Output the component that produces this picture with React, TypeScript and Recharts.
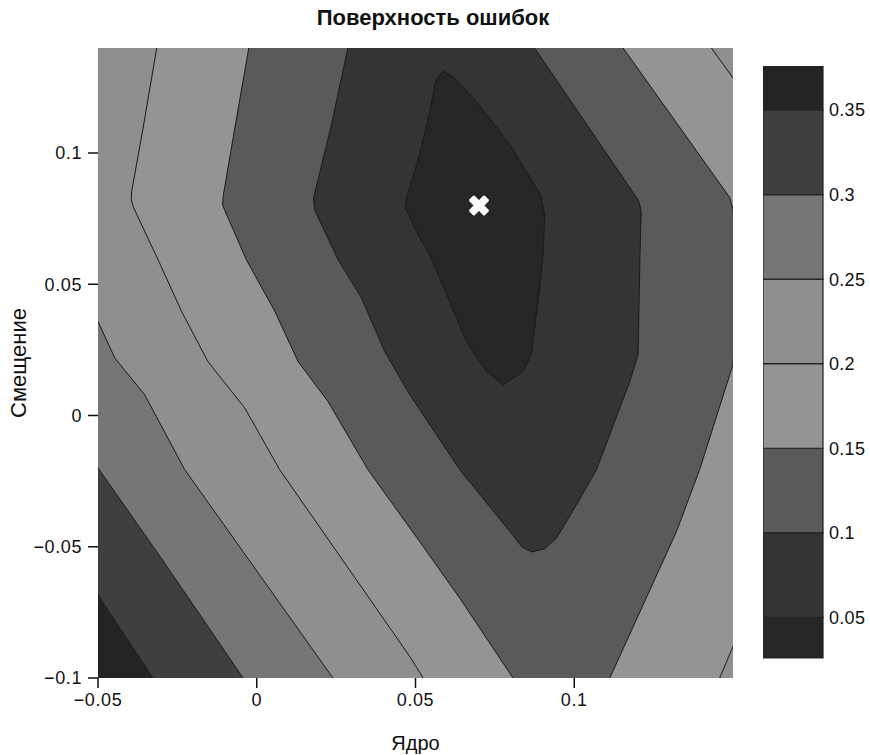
import React from 'react';
import { ScatterChart, Scatter, XAxis, YAxis, ComposedChart, ReferenceArea } from 'recharts';

type Pt = [number, number];

// colour bar: level edges and the grey of each band (lowest band first)
const levels = [0.026, 0.05, 0.1, 0.15, 0.2, 0.25, 0.3, 0.35, 0.376];
const bandColors = ['#262626', '#343434', '#5a5a5a', '#949494', '#8f8f8f', '#767676', '#3f3f3f', '#242424'];
const barTicks = [0.05, 0.1, 0.15, 0.2, 0.25, 0.3, 0.35];

const xTicks = [-0.05, 0, 0.05, 0.1];
const yTicks = [-0.1, -0.05, 0, 0.05, 0.1];

// outlines (kernel, bias) of the area where the error is below each level,
// read off the picture; points past the frame get clipped away
const wholeArea: Pt[] = [[-0.06, -0.11], [0.16, -0.11], [0.16, 0.15], [-0.06, 0.15]];

const under035: Pt[] = [
  [-0.0535, -0.062], [-0.05, -0.0683], [-0.0416, -0.0838], [-0.0327, -0.1], [-0.0292, -0.1063],
  [0.16, -0.11], [0.16, 0.15], [-0.06, 0.15], [-0.06, -0.062],
];

const under030: Pt[] = [
  [-0.0546, -0.012], [-0.05, -0.02], [-0.03, -0.0545], [-0.0043, -0.1], [0.0003, -0.108],
  [0.16, -0.11], [0.16, 0.15], [-0.06, 0.15], [-0.06, -0.012],
];

const under025: Pt[] = [
  [-0.053, 0.0437], [-0.05, 0.0358], [-0.0447, 0.0219], [-0.0353, 0.0079], [-0.0227, -0.0206],
  [0.024, -0.1], [0.027, -0.105], [0.16, -0.11], [0.16, 0.15], [-0.06, 0.15], [-0.06, 0.0437],
];

const under020: Pt[] = [
  [-0.0308, 0.145], [-0.0315, 0.14], [-0.0358, 0.1095], [-0.0394, 0.0853], [-0.0395, 0.0822],
  [-0.0388, 0.0792], [-0.0311, 0.0594], [-0.0237, 0.0397], [-0.0154, 0.0206], [-0.0038, 0.0029],
  [0.0072, -0.0206], [0.0482, -0.0918], [0.0524, -0.1], [0.054, -0.105], [0.144, -0.105],
  [0.1458, -0.1], [0.15, -0.088], [0.152, -0.0823], [0.152, 0.1252], [0.15, 0.1286],
  [0.1432, 0.14], [0.1414, 0.143],
];

const under015: Pt[] = [
  [-0.0018, 0.145], [-0.0025, 0.14], [-0.0069, 0.1095], [-0.0106, 0.0834], [-0.0107, 0.0799],
  [-0.0033, 0.0594], [0.0057, 0.0397], [0.013, 0.0206], [0.0224, 0.0054], [0.035, -0.0206],
  [0.0513, -0.048], [0.0639, -0.0695], [0.0807, -0.1], [0.0817, -0.105], [0.1102, -0.105],
  [0.1112, -0.1], [0.1217, -0.0721], [0.1322, -0.0442], [0.1395, -0.0206], [0.15, 0.0194],
  [0.1515, 0.05], [0.15, 0.0784], [0.149, 0.083], [0.1154, 0.14], [0.1125, 0.145],
];

const under010: Pt[] = [
  [0.0296, 0.145], [0.0287, 0.14], [0.0233, 0.1095], [0.0179, 0.083], [0.0182, 0.0784],
  [0.0256, 0.0594], [0.033, 0.0448], [0.0403, 0.0244], [0.0482, 0.0079], [0.0639, -0.0206],
  [0.0797, -0.0442], [0.0835, -0.05], [0.0865, -0.052], [0.0907, -0.0508], [0.0944, -0.0467],
  [0.1007, -0.034], [0.107, -0.0206], [0.1175, 0.013], [0.1201, 0.0232], [0.1207, 0.0613],
  [0.1211, 0.0778], [0.1203, 0.0818], [0.0875, 0.14], [0.0847, 0.145],
];

const under005: Pt[] = [
  [0.0587, 0.1311], [0.0614, 0.1294], [0.0692, 0.1197], [0.0797, 0.1032], [0.0894, 0.0841],
  [0.0907, 0.0765], [0.0902, 0.0613], [0.0891, 0.0486], [0.0865, 0.0232], [0.0839, 0.0168],
  [0.0776, 0.0117], [0.0723, 0.0168], [0.066, 0.0282], [0.0545, 0.0613], [0.0513, 0.0677],
  [0.0466, 0.0795], [0.0472, 0.083], [0.0513, 0.0994], [0.0545, 0.1158], [0.0564, 0.1279],
];

const minimum: Pt[] = [[0.07, 0.08]];

const regions = [wholeArea, under035, under030, under025, under020, under015, under010, under005];

const FONT = '"Liberation Sans", Arial, Helvetica, sans-serif';

const toRows = (pts: Pt[]) => pts.map(([x, y]) => ({ x, y }));
const fmt = (v: number) => (v < 0 ? '\u2212' + String(-v) : String(v));

function outline(fill: string, stroke: string) {
  return (p: any) => {
    const pts: { x: number; y: number }[] = p.points || [];
    if (!pts.length) return <g />;
    const d = 'M' + pts.map((q) => `${q.x},${q.y}`).join('L') + 'Z';
    return <path d={d} fill={fill} stroke={stroke} strokeWidth={1} strokeLinejoin="round" />;
  };
}

function Cross(props: any) {
  const { cx, cy } = props;
  return (
    <g transform={`translate(${cx},${cy}) rotate(45)`}>
      <rect x={-11} y={-3.8} width={22} height={7.6} rx={1.5} fill="#ffffff" />
      <rect x={-3.8} y={-11} width={7.6} height={22} rx={1.5} fill="#ffffff" />
    </g>
  );
}

const tickStyle = { fontSize: 18, fill: '#111', fontFamily: FONT, letterSpacing: 0.6 };

export default function App() {
  return (
    <div style={{ position: 'absolute', left: 0, top: 0, width: 870, height: 755, background: '#fff', fontFamily: FONT }}>
      <div
        style={{
          position: 'absolute', left: 0, top: 5, width: 866, textAlign: 'center',
          fontSize: 22, fontWeight: 'bold', color: '#111', lineHeight: '26px',
        }}
      >
        Поверхность ошибок
      </div>

      <div style={{ position: 'absolute', left: 0, top: 0 }}>
        <ScatterChart width={870} height={755} margin={{ top: 48, right: 137, bottom: 0, left: 8 }}>
          <XAxis
            type="number"
            dataKey="x"
            domain={[-0.05, 0.15]}
            allowDataOverflow
            ticks={xTicks}
            interval={0}
            tickFormatter={fmt}
            height={77}
            axisLine={false}
            tickLine={{ stroke: '#111', strokeWidth: 1.5 }}
            tickSize={10}
            tickMargin={5}
            tick={tickStyle}
            label={{ value: 'Ядро', position: 'insideBottom', offset: 5, style: { fontSize: 20, fill: '#111', fontFamily: FONT } }}
          />
          <YAxis
            type="number"
            dataKey="y"
            domain={[-0.1, 0.14]}
            allowDataOverflow
            ticks={yTicks}
            interval={0}
            tickFormatter={fmt}
            width={90}
            axisLine={false}
            tickLine={{ stroke: '#111', strokeWidth: 1.5 }}
            tickSize={10}
            tickMargin={6}
            tick={tickStyle}
            label={{
              value: 'Смещение', angle: -90, position: 'insideLeft', offset: 10,
              style: { fontSize: 22, fill: '#111', fontFamily: FONT, textAnchor: 'middle' },
            }}
          />
          {regions.map((r, i) => (
            <Scatter
              key={i}
              data={toRows(r)}
              isAnimationActive={false}
              shape={() => <g />}
              lineType="joint"
              line={outline(bandColors[7 - i], i === 0 ? 'none' : '#1a1a1a')}
            />
          ))}
          <Scatter data={toRows(minimum)} isAnimationActive={false} shape={(p: any) => <Cross {...p} />} />
        </ScatterChart>
      </div>

      <div style={{ position: 'absolute', left: 763, top: 66 }}>
        <ComposedChart width={110} height={600} data={[{ x: 0 }]} margin={{ top: 0, right: 5, bottom: 8, left: 0 }}>
          <XAxis type="number" dataKey="x" domain={[0, 1]} hide />
          <YAxis
            type="number"
            orientation="right"
            domain={[levels[0], levels[levels.length - 1]]}
            allowDataOverflow
            ticks={barTicks}
            interval={0}
            width={45}
            axisLine={false}
            tickLine={false}
            tickSize={6}
            tickMargin={0}
            tick={{ ...tickStyle, letterSpacing: 0.3, textAnchor: 'start' }}
          />
          {bandColors.map((c, i) => (
            <ReferenceArea
              key={i}
              x1={0}
              x2={1}
              y1={levels[i]}
              y2={levels[i + 1]}
              fill={c}
              fillOpacity={1}
              stroke="#222"
              strokeWidth={1.2}
              ifOverflow="visible"
            />
          ))}
        </ComposedChart>
      </div>
    </div>
  );
}
